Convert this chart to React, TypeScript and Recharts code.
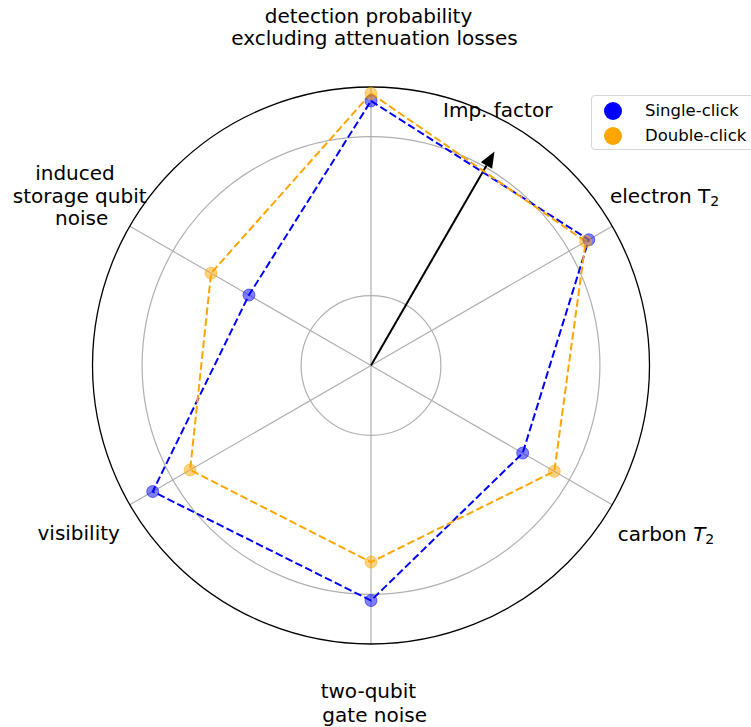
import { RadarChart, Radar, PolarGrid, PolarAngleAxis, PolarRadiusAxis, Legend } from "recharts";

// axis categories, clockwise from the top
const metrics = ["detection", "electronT2", "carbonT2", "twoQubit", "visibility", "induced"];

// improvement factor, as a fraction of the outer ring
const singleClick = [0.95, 0.903, 0.629, 0.844, 0.905, 0.506];
const doubleClick = [0.977, 0.89, 0.76, 0.706, 0.75, 0.663];

// gray reference rings (same units as the data)
const ringLevels = [0.251, 0.822];

const seriesNames = ["Single-click", "Double-click"];
const seriesColors = ["#0000ff", "#ffa500"];

const data = metrics.map((m, i) => ({ metric: m, single: singleClick[i], double: doubleClick[i] }));

const W = 751;
const H = 727;
const CX = 371;
const CY = 365.5;
const R = 278.5;
const FONT = "DejaVu Sans, sans-serif";

// label lines, placed relative to the chart centre
type Line = { text: string; dx: number; dy: number; anchor?: "start" | "middle" };
const labelLayout: Record<string, Line[]> = {
  detection: [
    { text: "detection probability", dx: -2.5, dy: -342.5 },
    { text: "excluding attenuation losses", dx: 3.5, dy: -320.5 },
  ],
  electronT2: [{ text: "electronT2", dx: 239, dy: -162.8, anchor: "start" }],
  carbonT2: [{ text: "carbonT2", dx: 246.7, dy: 175.2, anchor: "start" }],
  twoQubit: [
    { text: "two-qubit", dx: -2.6, dy: 332.8 },
    { text: "gate noise", dx: 3.7, dy: 356.2 },
  ],
  visibility: [{ text: "visibility", dx: -292.3, dy: 174.5 }],
  induced: [
    { text: "induced", dx: -296, dy: -185.5 },
    { text: "storage qubit", dx: -291.3, dy: -162.5 },
    { text: "noise", dx: -289.3, dy: -141 },
  ],
};

function AngleTick(props: any) {
  const lines = labelLayout[props.payload.value] || [];
  return (
    <g>
      {lines.map((l, i) => {
        const x = CX + l.dx;
        const y = CY + l.dy;
        const anchor = l.anchor || "middle";
        let content: any = l.text;
        if (l.text === "electronT2") {
          content = (
            <>
              electron T<tspan fontSize={14} dy={3.5}>2</tspan>
            </>
          );
        } else if (l.text === "carbonT2") {
          content = (
            <>
              carbon <tspan fontStyle="italic">T</tspan>
              <tspan fontSize={14} dy={3.5}>2</tspan>
            </>
          );
        }
        return (
          <text key={i} x={x} y={y} textAnchor={anchor} fontSize={20} fill="#000" fontFamily={FONT}>
            {content}
          </text>
        );
      })}
    </g>
  );
}

function LegendBox() {
  return (
    <div
      style={{
        width: 172,
        height: 55,
        boxSizing: "border-box",
        border: "1px solid #d6d6d6",
        borderRadius: 4,
        background: "rgba(255,255,255,0.8)",
        paddingTop: 2,
        fontFamily: FONT,
        fontSize: 16.5,
        color: "#000",
      }}
    >
      {seriesNames.map((name, i) => (
        <div key={name} style={{ display: "flex", alignItems: "center", height: 25 }}>
          <span
            style={{
              display: "inline-block",
              width: 18,
              height: 18,
              borderRadius: 9,
              background: seriesColors[i],
              marginLeft: 12,
              marginRight: 23,
            }}
          />
          <span>{name}</span>
        </div>
      ))}
    </div>
  );
}

function makeDot(color: string) {
  return (p: any) => (
    <circle
      key={`dot-${p.index}`}
      cx={p.cx}
      cy={p.cy}
      r={6}
      fill={color}
      fillOpacity={0.5}
      stroke={color}
      strokeOpacity={0.5}
      strokeWidth={1}
    />
  );
}

// arrow for the improvement factor direction
const arrowAngle = (60 * Math.PI) / 180;
const arrowLen = 247;
const headLen = 16;
const headHalf = 6.5;
const ux = Math.cos(arrowAngle);
const uy = -Math.sin(arrowAngle);
const tipX = CX + ux * arrowLen;
const tipY = CY + uy * arrowLen;
const baseX = tipX - ux * headLen;
const baseY = tipY - uy * headLen;
const headPts = [
  `${tipX},${tipY}`,
  `${baseX - uy * headHalf},${baseY + ux * headHalf}`,
  `${baseX + uy * headHalf},${baseY - ux * headHalf}`,
].join(" ");

export default function App() {
  return (
    <div style={{ position: "absolute", left: 0, top: 0, width: W, height: H, background: "#fff", fontFamily: FONT }}>
      <RadarChart width={W} height={H} data={data} cx={CX} cy={CY} outerRadius={R} margin={{ top: 0, right: 0, bottom: 0, left: 0 }}>
        <PolarGrid gridType="circle" polarRadius={ringLevels.map((v) => v * R)} stroke="#b0b0b0" strokeWidth={1.2} />
        <PolarGrid gridType="circle" polarRadius={[R]} radialLines={false} stroke="#000" strokeWidth={1.3} />
        <PolarAngleAxis dataKey="metric" tick={<AngleTick />} axisLine={false} tickLine={false} />
        <PolarRadiusAxis domain={[0, 1]} tick={false} axisLine={false} />
        <Radar
          name={seriesNames[0]}
          dataKey="single"
          stroke={seriesColors[0]}
          strokeWidth={2}
          strokeDasharray="7.7 3.3"
          fill="none"
          fillOpacity={0}
          dot={makeDot(seriesColors[0])}
          isAnimationActive={false}
        />
        <Radar
          name={seriesNames[1]}
          dataKey="double"
          stroke={seriesColors[1]}
          strokeWidth={2}
          strokeDasharray="7.7 3.3"
          fill="none"
          fillOpacity={0}
          dot={makeDot(seriesColors[1])}
          isAnimationActive={false}
        />
        <Legend
          verticalAlign="top"
          align="right"
          layout="vertical"
          content={<LegendBox />}
          wrapperStyle={{ position: "absolute", top: 95, left: 591, width: 172 }}
        />
        <g>
          <line x1={CX} y1={CY} x2={baseX} y2={baseY} stroke="#000" strokeWidth={2} />
          <polygon points={headPts} fill="#000" />
          <text x={443} y={117} fontSize={20} fill="#000" fontFamily={FONT}>
            Imp. factor
          </text>
        </g>
      </RadarChart>
    </div>
  );
}
